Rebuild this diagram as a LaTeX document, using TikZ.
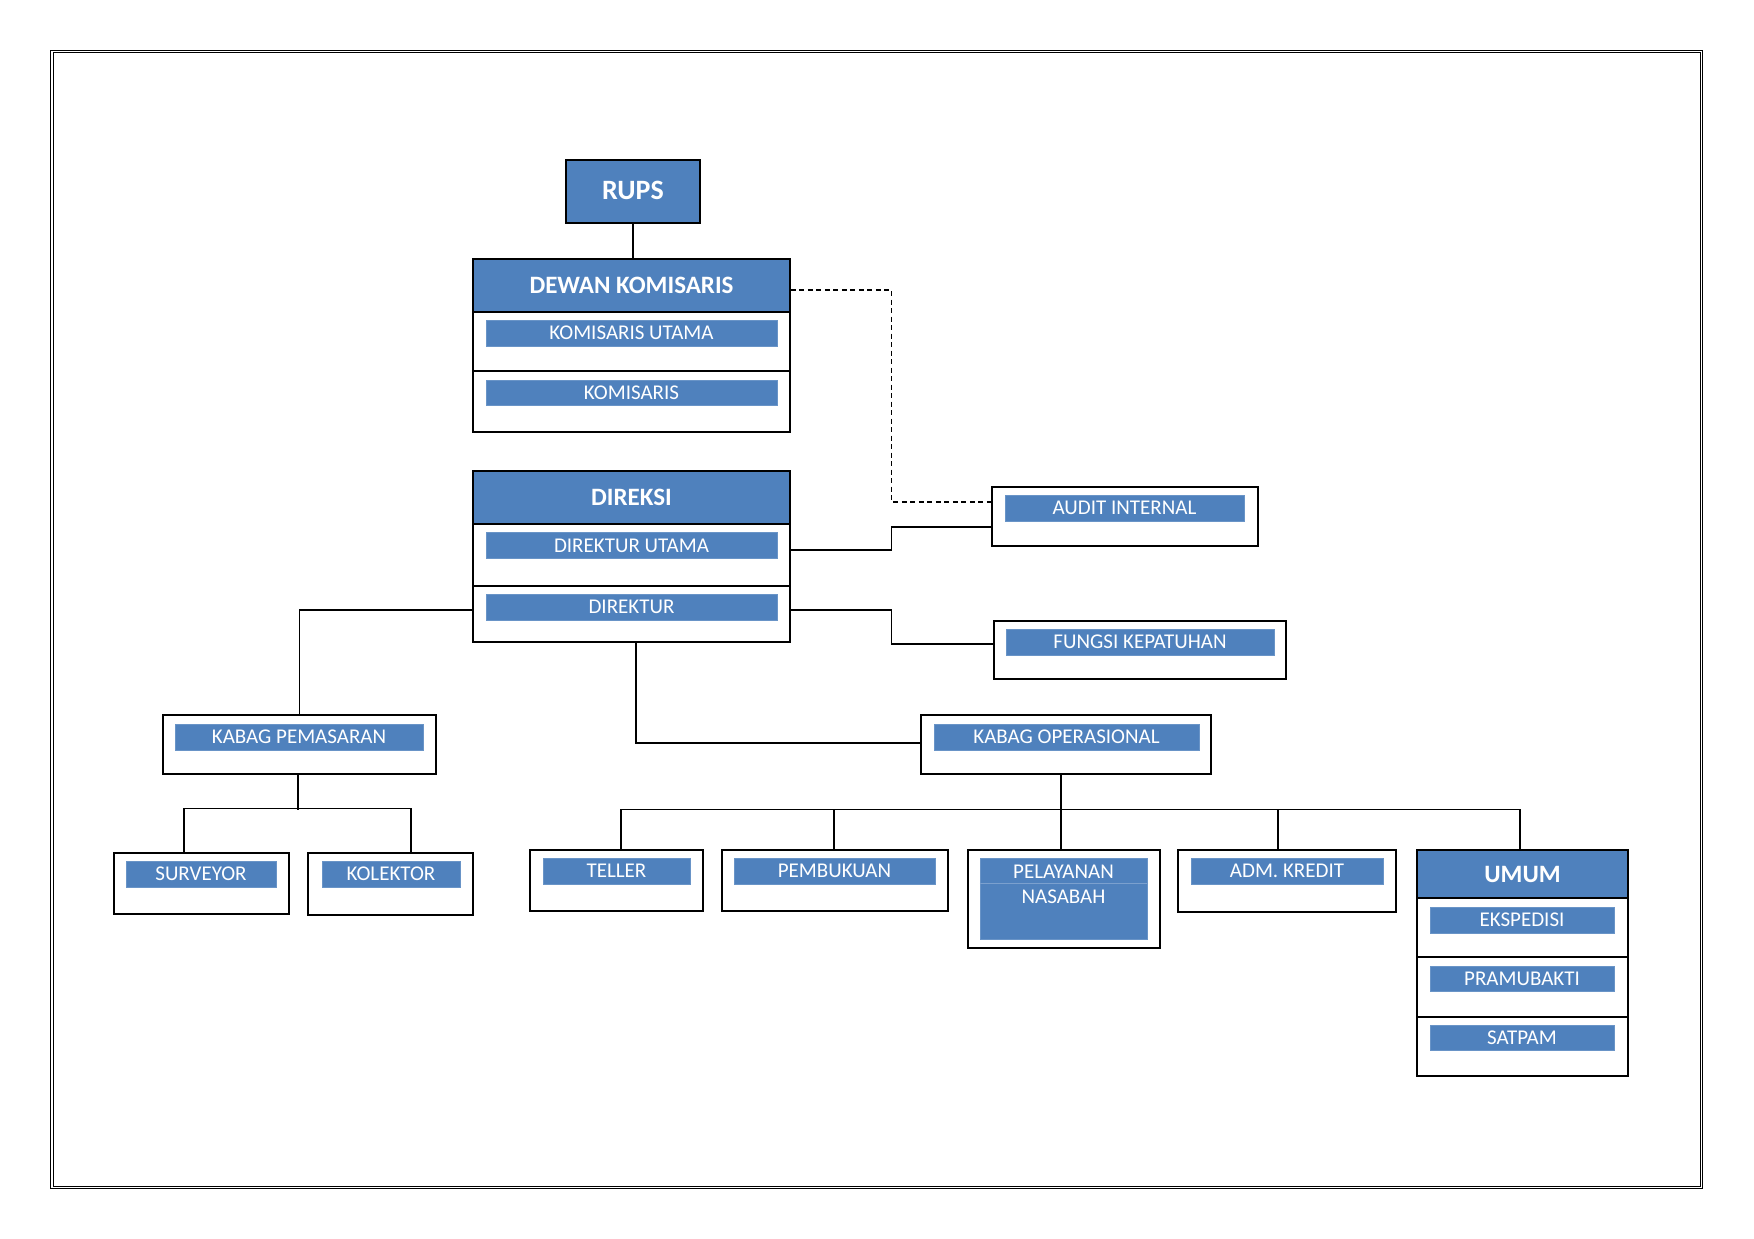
\documentclass[tikz,border=0pt]{standalone}
\usepackage{fontspec}
\setmainfont{Carlito}
\definecolor{blu}{HTML}{4F81BD}
\tikzset{
  frame/.style={draw=black, line width=1.6pt, fill=white, inner sep=0pt, rectangle},
  hdr/.style={frame, fill=blu, text=white, font=\fontsize{25}{30}\selectfont\bfseries},
  bar/.style={fill=blu, draw=blu!85!white, line width=0.5pt, text=white, inner sep=0pt, rectangle, font=\fontsize{21}{25.6}\selectfont},
  conn/.style={draw=black, line width=1.3pt},
  wh/.style 2 args={minimum width=#1pt, minimum height=#2pt},
}
\begin{document}
\begin{tikzpicture}[x=1pt, y=-1pt]
\useasboundingbox (0,0) rectangle (1754,1239);
% page frame (double line)
\draw[line width=1pt] (50.5,50.5) rectangle (1702.5,1188.5);
\draw[line width=1pt] (53,53) rectangle (1700,1186);

% RUPS
\node[hdr, wh={134}{63}, font=\fontsize{28}{32}\selectfont\bfseries] (rups) at (633,191.5) {\raisebox{3pt}{RUPS}};

% Dewan Komisaris
\node[hdr, wh={317}{53}] (dkh) at (631.5,285.5) {DEWAN KOMISARIS};
\node[frame, wh={317}{59}] (dk1) at (631.5,341.5) {};
\node[frame, wh={317}{61}] (dk2) at (631.5,401.5) {};
\node[bar, wh={291}{26}] (bku) at (631.5,333) {KOMISARIS UTAMA};
\node[bar, wh={291}{25}] (bk) at (631.5,392.5) {KOMISARIS};

% Direksi
\node[hdr, wh={317}{53}] (drh) at (631.5,497.5) {DIREKSI};
\node[frame, wh={317}{62}] (dr1) at (631.5,555) {};
\node[frame, wh={317}{56}] (dr2) at (631.5,614) {};
\node[bar, wh={291}{26}] (bdu) at (631.5,545.5) {DIREKTUR UTAMA};
\node[bar, wh={291}{26}] (bd) at (631.5,607) {DIREKTUR};

% Audit internal
\node[frame, wh={266}{59}] (audit) at (1125,516.5) {};
\node[bar, wh={239}{26}] (baudit) at (1124.5,508) {AUDIT INTERNAL};

% Fungsi kepatuhan
\node[frame, wh={292}{58}] (fungsi) at (1140,650) {};
\node[bar, wh={268}{26}] (bfungsi) at (1140,642) {FUNGSI KEPATUHAN};

% Kabag pemasaran
\node[frame, wh={273}{59}] (kpem) at (299.5,744.5) {};
\node[bar, wh={248}{26}] (bkpem) at (299,737) {KABAG PEMASARAN};
\node[frame, wh={175}{61}] (surv) at (201.5,883.5) {};
\node[bar, wh={150}{26}] (bsurv) at (201,874) {SURVEYOR};
\node[frame, wh={165}{62}] (kol) at (390.5,884) {};
\node[bar, wh={138}{26}] (bkol) at (391,874) {KOLEKTOR};

% Kabag operasional
\node[frame, wh={290}{59}] (kop) at (1066,744.5) {};
\node[bar, wh={265}{26}] (bkop) at (1066.5,737) {KABAG OPERASIONAL};
\node[frame, wh={173}{61}] (tel) at (616.5,880.5) {};
\node[bar, wh={147}{26}] (btel) at (616.5,871) {TELLER};
\node[frame, wh={226}{61}] (pemb) at (835,880.5) {};
\node[bar, wh={201}{26}] (bpemb) at (834.5,871) {PEMBUKUAN};
\node[frame, wh={192}{98}] (pel) at (1064,899) {};
\node[bar, wh={167}{81}] (bpel) at (1063.5,898.5) {};
\draw[blu!75!white, line width=0.5pt] (bpel.west |- 0,883.5) -- (bpel.east |- 0,883.5);
\node[text=white, align=center, inner sep=0pt, font=\fontsize{21}{25.6}\selectfont] (tpel) at (1063.5,884.5) {PELAYANAN\\NASABAH};
\node[frame, wh={218}{62}] (adm) at (1287,881) {};
\node[bar, wh={192}{26}] (badm) at (1287,871) {ADM. KREDIT};

% Umum
\node[hdr, wh={211}{48}] (umh) at (1522.5,874) {UMUM};
\node[frame, wh={211}{59}] (um1) at (1522.5,927.5) {};
\node[frame, wh={211}{60}] (um2) at (1522.5,987) {};
\node[frame, wh={211}{59}] (um3) at (1522.5,1046.5) {};
\node[bar, wh={184}{26}] (beks) at (1522,920) {EKSPEDISI};
\node[bar, wh={184}{25}] (bpram) at (1522,978.5) {PRAMUBAKTI};
\node[bar, wh={184}{25}] (bsat) at (1522,1037.5) {SATPAM};

% connectors
\draw[conn] (rups.south) -- (rups.south |- dkh.north);
\draw[conn, dash pattern=on 5pt off 3.5pt] ([yshift=-4.5pt]dkh.east) -- ++(101,0) |- ([yshift=14.5pt]audit.west);
\draw[conn] ([yshift=5pt]dr1.east) -- ++(101,0) |- ([yshift=-10.5pt]audit.west);
\draw[conn] ([yshift=4pt]dr2.east) -- ++(101,0) |- ([yshift=6pt]fungsi.west);
\draw[conn] ([yshift=4pt]dr2.west) -| (kpem.north);
\draw[conn] ([xshift=4.5pt]dr2.south) |- ([yshift=1.5pt]kop.west);
% pemasaran children
\draw[conn] ([xshift=-1.5pt]kpem.south) -- ++(0,35);
\draw[conn] ([xshift=-17.5pt]surv.north) -- ++(0,-44) -| ([xshift=20.5pt]kol.north);
% operasional children
\draw[conn] ([xshift=-5pt]kop.south) -- ++(0,36);
\draw[conn] ([xshift=4.5pt]tel.north) -- ++(0,-40) -| ([xshift=-2.5pt]umh.north);
\draw[conn] ([xshift=-1pt]pemb.north) -- ++(0,-40);
\draw[conn] ([xshift=-3pt]pel.north) -- ++(0,-40);
\draw[conn] ([xshift=-9pt]adm.north) -- ++(0,-40);
\end{tikzpicture}
\end{document}
